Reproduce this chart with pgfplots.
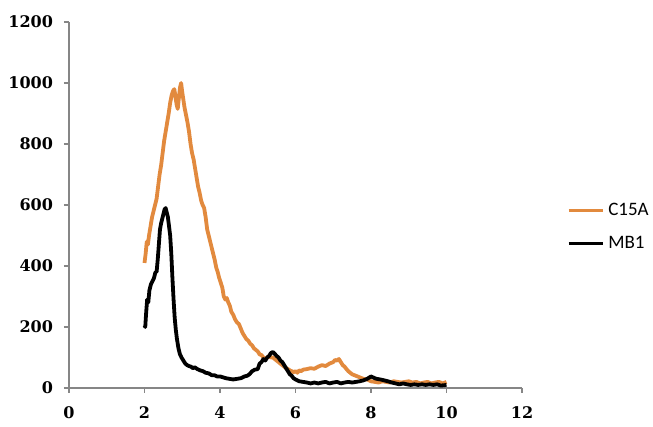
\documentclass[border=0pt]{standalone}
\usepackage{fontspec}
\setmainfont{DejaVu Serif}
\newfontfamily\legfont{Carlito}
\usepackage{pgfplots}
\pgfplotsset{compat=1.18}
\definecolor{corange}{RGB}{226,138,62}
\definecolor{axgray}{RGB}{134,134,134}
\pgfplotstableread{
x y
2.00 410
2.03 440
2.06 480
2.09 470
2.12 500
2.16 530
2.20 560
2.24 580
2.28 600
2.32 620
2.36 660
2.40 700
2.44 730
2.48 770
2.52 810
2.56 840
2.60 870
2.64 900
2.68 935
2.72 960
2.76 975
2.79 980
2.82 955
2.85 930
2.88 915
2.91 950
2.94 985
2.97 1000
3.00 970
3.03 945
3.06 920
3.10 895
3.14 870
3.18 840
3.22 800
3.26 770
3.30 750
3.34 720
3.38 690
3.42 660
3.46 640
3.50 615
3.54 600
3.58 590
3.62 560
3.66 520
3.70 500
3.74 480
3.78 460
3.82 440
3.86 420
3.90 395
3.94 380
3.98 360
4.02 345
4.06 330
4.10 300
4.14 290
4.18 295
4.22 280
4.26 270
4.30 250
4.35 240
4.40 225
4.45 215
4.50 210
4.55 195
4.60 180
4.65 170
4.70 160
4.75 155
4.80 145
4.85 140
4.90 130
4.95 125
5.00 120
5.05 110
5.10 108
5.15 100
5.20 95
5.25 100
5.30 105
5.35 100
5.40 100
5.45 95
5.50 90
5.55 85
5.60 80
5.65 75
5.70 70
5.75 65
5.80 62
5.85 58
5.90 55
5.95 52
6.00 55
6.05 50
6.10 58
6.15 55
6.20 60
6.30 62
6.40 65
6.50 63
6.60 70
6.70 75
6.80 72
6.90 80
7.00 85
7.05 92
7.10 90
7.15 95
7.20 85
7.25 75
7.30 70
7.35 62
7.40 55
7.50 45
7.60 40
7.70 35
7.80 30
7.90 28
8.00 22
8.10 20
8.20 18
8.30 22
8.40 20
8.50 18
8.60 22
8.70 20
8.80 18
8.90 20
9.00 22
9.10 18
9.20 20
9.30 15
9.40 18
9.50 20
9.60 15
9.70 18
9.80 20
9.90 15
10.00 20
}\tableC
\pgfplotstableread{
x y
2.00 205
2.02 200
2.04 240
2.07 290
2.10 280
2.13 320
2.17 340
2.21 350
2.25 360
2.29 380
2.32 380
2.35 420
2.38 470
2.41 520
2.44 540
2.47 555
2.50 570
2.53 585
2.56 590
2.59 575
2.62 560
2.65 530
2.68 500
2.71 440
2.74 360
2.77 290
2.80 230
2.83 190
2.86 160
2.90 130
2.94 110
2.98 100
3.03 90
3.08 80
3.13 75
3.18 72
3.23 70
3.28 65
3.33 68
3.40 62
3.47 58
3.55 55
3.62 50
3.70 48
3.78 42
3.85 42
3.92 38
4.00 38
4.08 35
4.16 32
4.25 30
4.35 28
4.45 30
4.55 32
4.65 38
4.72 40
4.78 45
4.85 55
4.92 60
5.00 62
5.05 80
5.10 85
5.15 95
5.20 90
5.25 100
5.30 105
5.35 115
5.40 118
5.45 112
5.50 105
5.55 100
5.60 90
5.65 85
5.70 75
5.75 65
5.80 55
5.85 45
5.90 40
5.95 32
6.00 28
6.05 25
6.10 22
6.20 20
6.30 18
6.40 15
6.50 18
6.60 15
6.70 18
6.80 20
6.90 15
7.00 18
7.10 20
7.20 15
7.30 18
7.40 20
7.50 18
7.60 20
7.70 22
7.80 25
7.90 30
8.00 38
8.05 35
8.10 32
8.15 30
8.25 28
8.35 25
8.45 22
8.55 18
8.65 15
8.75 12
8.85 15
8.95 12
9.05 10
9.15 12
9.25 10
9.35 12
9.45 10
9.55 12
9.65 10
9.75 12
9.85 8
10.00 10
}\tableM
\begin{document}
\begin{tikzpicture}
\begin{axis}[
  at={(0,0)}, anchor=south west,
  scale only axis,
  width=226.5pt, height=183pt,
  xmin=0, xmax=12, ymin=0, ymax=1200,
  xtick={0,2,...,12}, ytick={0,200,...,1200},
  axis lines=left,
  axis line style={-, draw=axgray, line width=0.6pt},
  tick style={draw=axgray, line width=0.6pt},
  tick align=outside,
  major tick length=2.5pt,
  ticklabel style={font=\fontsize{8}{9}\selectfont\bfseries},
  /pgf/number format/assume math mode=true,
  /pgf/number format/1000 sep={},
  xticklabel style={yshift=-3.5pt},
  yticklabel style={xshift=-2pt},
  legend style={at={(rel axis cs:1.085,0.44)}, anchor=west, draw=none, fill=none,
    font=\legfont\fontsize{9.5}{11}\selectfont, row sep=5pt,
    /tikz/every even column/.append style={column sep=1pt}},
  legend cell align=left,
  legend image code/.code={\draw[#1, line width=1.6pt] (0cm,0cm) -- (0.6cm,0cm);},
]
\addplot[corange, line width=1.9pt, line join=round] table[x=x,y=y] {\tableC};
\addlegendentry{C15A}
\addplot[black, line width=1.9pt, line join=round] table[x=x,y=y] {\tableM};
\addlegendentry{MB1}
\end{axis}
\pgfresetboundingbox
\path[use as bounding box] (-34.5pt,-19.5pt) rectangle (292pt,194pt);
\end{tikzpicture}
\end{document}
